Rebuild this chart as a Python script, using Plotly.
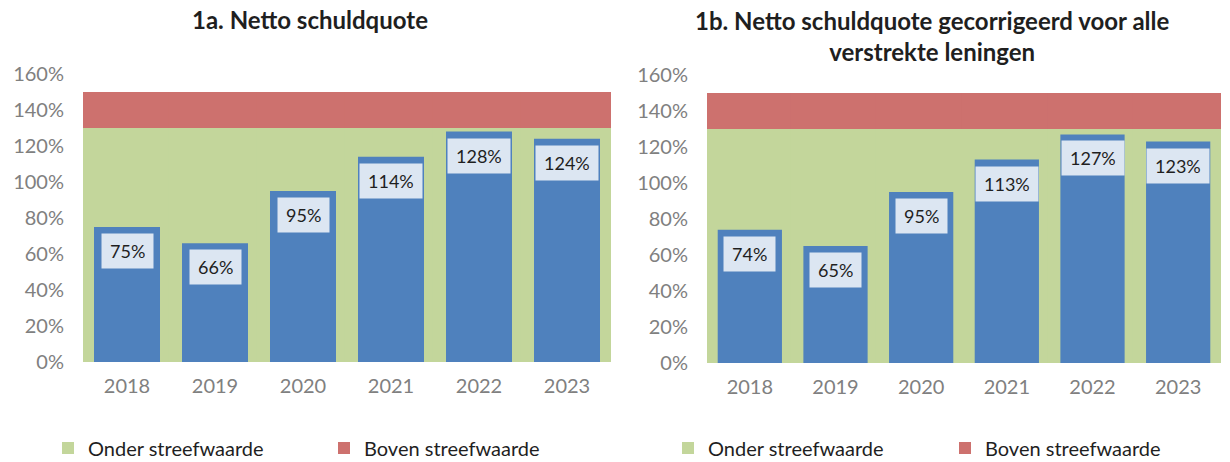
import plotly.graph_objects as go

# ---- data ----
years = ["2018", "2019", "2020", "2021", "2022", "2023"]
schuldquote_1a = [75, 66, 95, 114, 128, 124]
schuldquote_1b = [74, 65, 95, 113, 127, 123]
onder_streefwaarde = [130, 130, 130, 130, 130, 130]   # band 0 - 130%
boven_streefwaarde = [20, 20, 20, 20, 20, 20]         # band 130 - 150%
y_ticks = [0, 20, 40, 60, 80, 100, 120, 140, 160]
titles = ["1a. Netto schuldquote",
          "1b. Netto schuldquote gecorrigeerd voor alle<br>verstrekte leningen"]
legend_names = ["Onder streefwaarde", "Boven streefwaarde"]

# ---- style ----
W, H = 1230, 462
FONT = "Lato"
GREEN = "#C3D69B"
RED = "#CD716E"
BLUE = "#4F81BD"
LABEL_BG = "#DCE6F2"
TICK_COL = "#808080"
TXT = "#1F1F1F"

fig = go.Figure()

panels = [
    dict(vals=schuldquote_1a, xa="x", ya="y", legend="legend"),
    dict(vals=schuldquote_1b, xa="x2", ya="y2", legend="legend2"),
]

for p in panels:
    fig.add_trace(go.Bar(
        x=years, y=onder_streefwaarde, base=0, width=1.06,
        marker=dict(color=GREEN, line=dict(width=0)),
        name=legend_names[0], xaxis=p["xa"], yaxis=p["ya"],
        legend=p["legend"], hoverinfo="skip"))
    fig.add_trace(go.Bar(
        x=years, y=boven_streefwaarde, base=onder_streefwaarde, width=1.06,
        marker=dict(color=RED, line=dict(width=0)),
        name=legend_names[1], xaxis=p["xa"], yaxis=p["ya"],
        legend=p["legend"], hoverinfo="skip"))
    fig.add_trace(go.Bar(
        x=years, y=p["vals"], width=0.75,
        marker=dict(color=BLUE, line=dict(width=0)),
        showlegend=False, xaxis=p["xa"], yaxis=p["ya"]))

annotations = []
for p in panels:
    for i, v in enumerate(p["vals"]):
        annotations.append(dict(
            x=i, y=v, xref=p["xa"], yref=p["ya"],
            text=f"{v}%", showarrow=False, yanchor="top", yshift=-6,
            bgcolor=LABEL_BG, borderpad=8, height=18,
            font=dict(family=FONT, size=18, color=TXT)))

annotations.append(dict(
    x=310 / W, y=1 - 20 / H, xref="paper", yref="paper",
    text=f"<b>{titles[0]}</b>", showarrow=False,
    xanchor="center", yanchor="middle",
    font=dict(family=FONT, size=24, color=TXT)))
annotations.append(dict(
    x=932 / W, y=1 - 36 / H, xref="paper", yref="paper",
    text=f"<b>{titles[1]}</b>", showarrow=False,
    xanchor="center", yanchor="middle",
    font=dict(family=FONT, size=24, color=TXT)))

xaxis_common = dict(type="category", range=[-0.5, 5.5], showgrid=False,
                    showline=False, zeroline=False, ticks="",
                    ticklabelstandoff=10, automargin=False,
                    tickfont=dict(family=FONT, size=20, color=TICK_COL),
                    fixedrange=True)
yaxis_common = dict(range=[0, 160], tickvals=y_ticks,
                    ticktext=[f"{t}%" for t in y_ticks],
                    showgrid=False, showline=False, zeroline=False,
                    ticks="", ticklabelstandoff=18, automargin=False,
                    tickfont=dict(family=FONT, size=20, color=TICK_COL),
                    fixedrange=True)

legend_common = dict(orientation="h", xanchor="left", yanchor="middle",
                     font=dict(family=FONT, size=20, color=TXT),
                     bgcolor="rgba(0,0,0,0)", traceorder="normal",
                     entrywidthmode="pixels")

fig.update_layout(
    width=W, height=H,
    margin=dict(l=0, r=0, t=0, b=0, autoexpand=False),
    paper_bgcolor="white", plot_bgcolor="white",
    barmode="overlay",
    xaxis=dict(domain=[83 / W, 611 / W], anchor="y", **xaxis_common),
    yaxis=dict(domain=[1 - 362 / H, 1 - 74 / H], anchor="x", **yaxis_common),
    xaxis2=dict(domain=[707 / W, 1221 / W], anchor="y2", **xaxis_common),
    yaxis2=dict(domain=[1 - 363 / H, 1 - 75 / H], anchor="x2", **yaxis_common),
    legend=dict(x=48 / W, y=1 - 448 / H, entrywidth=231, **legend_common),
    legend2=dict(x=668 / W, y=1 - 448 / H, entrywidth=232, **legend_common),
    annotations=annotations,
    showlegend=True,
)

fig.write_html("out.html")
